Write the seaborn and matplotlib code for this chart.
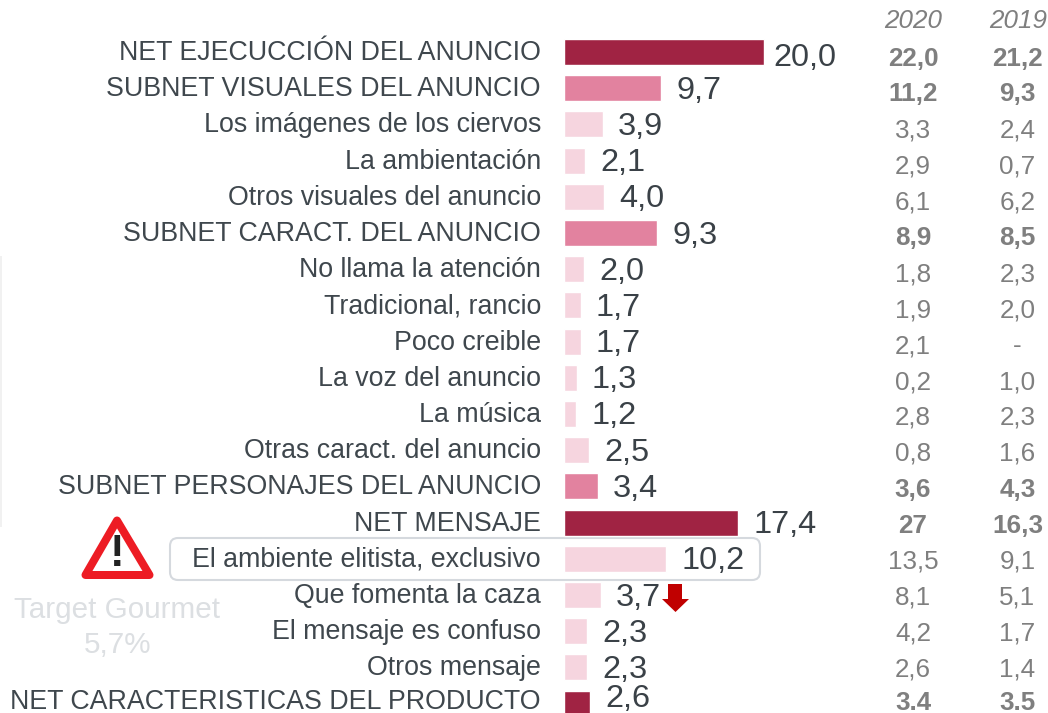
import matplotlib
matplotlib.use("Agg")
import matplotlib.pyplot as plt
import seaborn as sns
import pandas as pd
from matplotlib.patches import FancyBboxPatch, Polygon, Rectangle
from matplotlib.transforms import IdentityTransform, ScaledTranslation

labels = ["NET EJECUCCIÓN DEL ANUNCIO", "SUBNET VISUALES DEL ANUNCIO", "Los imágenes de los ciervos",
          "La ambientación", "Otros visuales del anuncio", "SUBNET CARACT. DEL ANUNCIO",
          "No llama la atención", "Tradicional, rancio", "Poco creible", "La voz del anuncio",
          "La música", "Otras caract. del anuncio", "SUBNET PERSONAJES DEL ANUNCIO", "NET MENSAJE",
          "El ambiente elitista, exclusivo", "Que fomenta la caza", "El mensaje es confuso",
          "Otros mensaje", "NET CARACTERISTICAS DEL PRODUCTO"]
values = [20.0, 9.7, 3.9, 2.1, 4.0, 9.3, 2.0, 1.7, 1.7, 1.3, 1.2, 2.5, 3.4, 17.4, 10.2, 3.7, 2.3, 2.3, 2.6]
levels = ["net", "subnet", "item", "item", "item", "subnet", "item", "item", "item", "item", "item",
          "item", "subnet", "net", "item", "item", "item", "item", "net"]
y2020 = ["22,0", "11,2", "3,3", "2,9", "6,1", "8,9", "1,8", "1,9", "2,1", "0,2", "2,8", "0,8", "3,6",
         "27", "13,5", "8,1", "4,2", "2,6", "3.4"]
y2019 = ["21,2", "9,3", "2,4", "0,7", "6,2", "8,5", "2,3", "2,0", "-", "1,0", "2,3", "1,6", "4,3",
         "16,3", "9,1", "5,1", "1,7", "1,4", "3.5"]
palette = {"net": "#a02343", "subnet": "#e2829f", "item": "#f6d5df"}

W, H = 1048, 713
PAD = 22.5
FONT = ["Liberation Sans", "DejaVu Sans"]
sns.set_theme(style="white", rc={"font.family": FONT})
plt.rcParams["font.family"] = FONT
fig = plt.figure(figsize=(W / 100, H / 100), dpi=100)
ax = fig.add_axes([563.5 / W, 0, 484.5 / W, 1])
ax.patch.set_alpha(0)
df = pd.DataFrame({"label": labels, "value": values, "level": levels})
sns.barplot(data=df, x="value", y="label", hue="level", palette=palette, dodge=False,
            width=0.72, saturation=1, legend=False, ax=ax)
ax.set_xlim(0, 48.45)
row = 36.2
ax.set_ylim((713 - 52) / row, -52 / row)
sns.despine(ax=ax, left=True, bottom=True)
ax.set_xlabel(""); ax.set_ylabel(""); ax.set_xticks([])
px = 72 / 100
ax.tick_params(axis="y", length=0, pad=PAD * px, labelsize=26.7 * px, labelcolor="#3f474d")
ticklabels = ax.get_yticklabels()
for k, lab in enumerate(ticklabels):
    up = 5 if k == len(ticklabels) - 1 else 2
    lab.set_transform(lab.get_transform() + ScaledTranslation(0, up * px / 72, fig.dpi_scale_trans))

for i, v in enumerate(values):
    dx, dy = 15.5, 1
    if i == 0:
        dx, dy = 10, -3
    elif i == 18:
        dy = 8
    ax.annotate(f"{v:.1f}".replace(".", ","), (v, i), xytext=(dx * px, dy * px), textcoords="offset points",
                ha="left", va="center_baseline", fontsize=32.5 * px, color="#3a4147")
    bold = levels[i] != "item"
    yc = (i * 35.95 + 4) / row
    if i == 18:
        yc -= 3 / row
    for xv, t in ((34.95, y2020[i]), (45.4, y2019[i])):
        ax.text(xv, yc, t, ha="center", va="center_baseline", fontsize=26 * px, color="#7f7f7f",
                fontweight="bold" if bold else "normal")
for xv, t in ((35.0, "2020"), (45.5, "2019")):
    ax.text(xv, -0.92, t, ha="center", va="center_baseline", fontsize=26 * px, color="#7f7f7f", style="italic")

def P(x, y):
    return (x, H - y)

I = IdentityTransform()
fig.add_artist(Rectangle(P(0, 527), 1.5, 271, transform=I, fc="#f1f1f1", ec="none"))
fig.add_artist(FancyBboxPatch(P(170, 580), 590, 42, boxstyle="round,pad=0,rounding_size=8",
                              transform=I, fc="none", ec="#d5d9de", lw=1.5, zorder=0))
fig.add_artist(Polygon([P(117, 520.5), P(149.5, 575), P(85.5, 575)], closed=True, transform=I,
                       fc="white", ec="#ed1c24", lw=8 * px, joinstyle="round"))
fig.text(117 / W, 1 - 555 / H, "!", ha="center", va="center", fontsize=44 * px, color="#222222", fontweight="bold")
fig.text(117.5 / W, 1 - 610 / H, "Target Gourmet", ha="center", va="center", fontsize=29.6 * px, color="#dcdfe2")
fig.text(117.5 / W, 1 - 645 / H, "5,7%", ha="center", va="center", fontsize=29.6 * px, color="#dcdfe2")
fig.add_artist(Polygon([P(668, 584), P(682, 584), P(682, 599), P(689, 599), P(675.5, 612), P(662, 599), P(668, 599)],
                       closed=True, transform=I, fc="#c00000", ec="none"))
fig.savefig("out.png", dpi=100)
